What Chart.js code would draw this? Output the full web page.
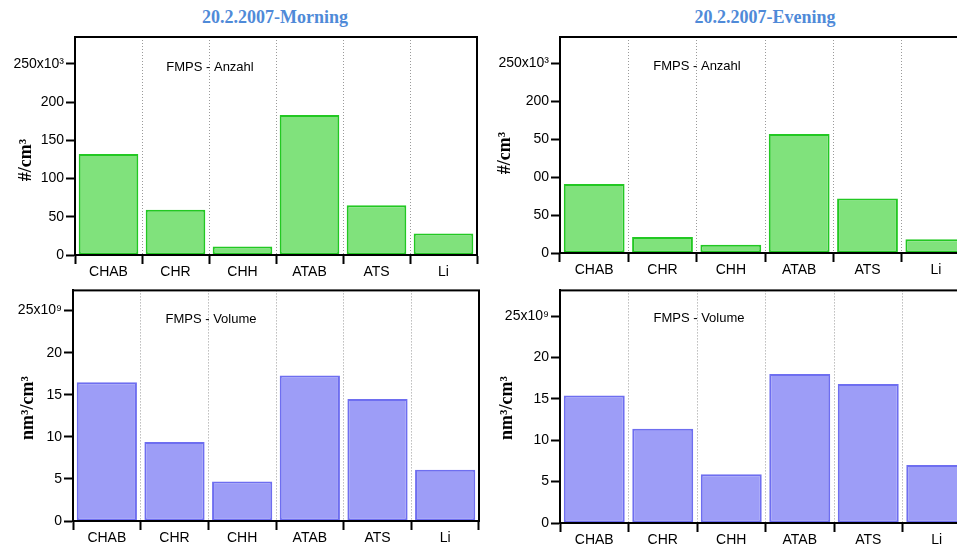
<!DOCTYPE html>
<html>
<head>
<meta charset="utf-8">
<script src="https://cdn.jsdelivr.net/npm/chart.js@4"></script>
<style>
  html, body { margin:0; padding:0; background:#fff; }
  body { width:957px; height:544px; overflow:hidden; position:relative; }
  canvas { position:absolute; }
  .ttl { position:absolute; top:7px; font:bold 18px "Liberation Serif", "Times New Roman", serif; color:#4f8ad8; white-space:nowrap; transform:translateX(-50%); }
</style>
</head>
<body>
<div class="ttl" style="left:275px">20.2.2007-Morning</div>
<div class="ttl" style="left:765px">20.2.2007-Evening</div>
<canvas id="cTL" width="480" height="280" style="left:0;top:0"></canvas>
<canvas id="cTR" width="492" height="280" style="left:480px;top:0"></canvas>
<canvas id="cBL" width="480" height="264" style="left:0;top:280px"></canvas>
<canvas id="cBR" width="494" height="264" style="left:480px;top:280px"></canvas>
<script>
// categories + values
const categories = ['CHAB', 'CHR', 'CHH', 'ATAB', 'ATS', 'Li'];
const morningCount = [132, 59, 11, 183, 65, 28];      // x10^3 #/cm3
const eveningCount = [91, 21, 11, 157, 72, 18];
const morningVolume = [16.5, 9.4, 4.7, 17.3, 14.5, 6.1]; // x10^9 nm3/cm3
const eveningVolume = [15.4, 11.4, 5.9, 18.0, 16.8, 7.0];

const countTickValues = [0, 50, 100, 150, 200, 250];
const countTicks = ['0', '50', '100', '150', '200', '250x10³'];
const countTicksEvening = ['0', '50', '00', '50', '200', '250x10³'];
const volumeTickValues = [0, 5, 10, 15, 20, 25];
const volumeTicks = ['0', '5', '10', '15', '20', '25x10⁹'];

const GREEN = { fill: '#80e27c', line: '#22c822' };
const BLUE = { fill: '#9d9df7', line: '#6e6ef0' };
const SANS = '"Liberation Sans", Arial, sans-serif';
const SERIF = '"Liberation Serif", "Times New Roman", serif';

// frame + y title + annotation text
const panelDeco = {
  id: 'panelDeco',
  afterDatasetsDraw(chart, args, o) {
    const { ctx, chartArea: a } = chart;
    ctx.save();
    ctx.strokeStyle = '#000';
    ctx.lineWidth = 2;
    ctx.strokeRect(a.left, a.top, a.right - a.left, a.bottom - a.top);

    ctx.fillStyle = '#000';
    ctx.font = '13px ' + SANS;
    ctx.textAlign = 'center';
    ctx.textBaseline = 'middle';
    ctx.fillText(o.note, o.noteX, o.noteY);

    ctx.translate(o.titleX, o.titleY);
    ctx.rotate(-Math.PI / 2);
    ctx.font = 'bold 18px ' + SERIF;
    ctx.fillText(o.yTitle, 0, 0);
    ctx.restore();
  }
};

function makeChart(id, p) {
  const cv = document.getElementById(id);
  const W = cv.width, H = cv.height;
  return new Chart(cv.getContext('2d'), {
    type: 'bar',
    data: {
      labels: categories,
      datasets: [{
        data: p.values,
        backgroundColor: p.color.fill,
        borderColor: p.color.line,
        borderWidth: 2,
        borderSkipped: false,
        barPercentage: 0.89,
        categoryPercentage: 1
      }]
    },
    options: {
      responsive: false,
      animation: false,
      layout: { padding: { left: 0, top: p.area.top, right: W - p.area.right, bottom: 0 } },
      plugins: {
        legend: { display: false },
        tooltip: { enabled: false },
        panelDeco: p.deco
      },
      scales: {
        x: {
          afterFit: s => { s.height = H - p.area.bottom; },
          grid: {
            offset: true,
            color: '#9a9a9a',
            lineWidth: 1,
            tickColor: '#000',
            tickWidth: 2,
            tickLength: 9,
            tickBorderDash: []
          },
          border: { display: true, color: '#000', width: 2, dash: [1, 2] },
          ticks: { color: '#000', font: { family: SANS, size: 14 }, padding: 0, autoSkip: false, maxRotation: 0 }
        },
        y: {
          min: 0,
          max: p.max,
          afterFit: s => { s.width = p.area.left; },
          afterBuildTicks: s => { s.ticks = p.tickValues.map(v => ({ value: v })); },
          grid: { drawOnChartArea: false, tickLength: 9, tickColor: '#000', tickWidth: 2 },
          border: { display: true, color: '#000', width: 2 },
          ticks: {
            color: '#000',
            font: { family: SANS, size: 14 },
            padding: 2,
            callback: (v, i) => p.tickLabels[i]
          }
        }
      }
    },
    plugins: [panelDeco]
  });
}

makeChart('cTL', {
  values: morningCount, color: GREEN, max: 285,
  tickValues: countTickValues, tickLabels: countTicks,
  area: { left: 75, top: 37, right: 477, bottom: 255 },
  deco: { note: 'FMPS - Anzahl', noteX: 210, noteY: 67, yTitle: '#/cm³', titleX: 26, titleY: 160 }
});
makeChart('cTR', {
  values: eveningCount, color: GREEN, max: 285,
  tickValues: countTickValues, tickLabels: countTicksEvening,
  area: { left: 80, top: 37, right: 490, bottom: 253 },
  deco: { note: 'FMPS - Anzahl', noteX: 217, noteY: 66, yTitle: '#/cm³', titleX: 25, titleY: 153 }
});
makeChart('cBL', {
  values: morningVolume, color: BLUE, max: 27.4,
  tickValues: volumeTickValues, tickLabels: volumeTicks,
  area: { left: 73, top: 7, right: 479, bottom: 241 },
  deco: { note: 'FMPS - Volume', noteX: 211, noteY: 39, yTitle: 'nm³/cm³', titleX: 28, titleY: 128 }
});
makeChart('cBR', {
  values: eveningVolume, color: BLUE, max: 28.1,
  tickValues: volumeTickValues, tickLabels: volumeTicks,
  area: { left: 80, top: 7, right: 491, bottom: 243 },
  deco: { note: 'FMPS - Volume', noteX: 219, noteY: 38, yTitle: 'nm³/cm³', titleX: 27, titleY: 128 }
});
</script>
</body>
</html>
